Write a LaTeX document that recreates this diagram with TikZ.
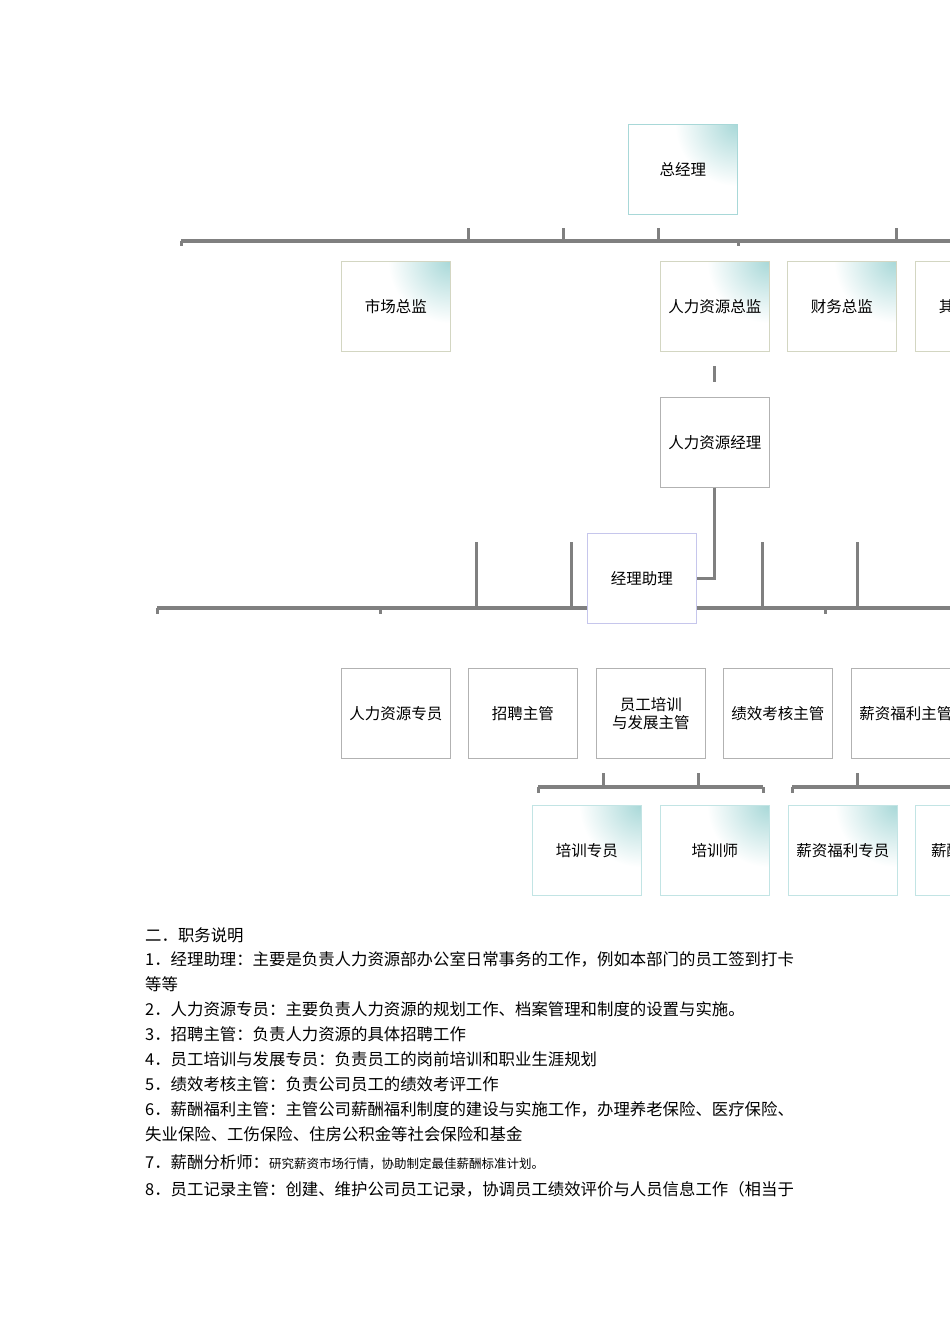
\documentclass[tikz,border=0pt]{standalone}
\usepackage{fontspec}
\newfontfamily\cjk{Noto Sans CJK SC}
\definecolor{ln}{HTML}{808080}
\definecolor{teal1}{HTML}{A8D8D8}
\tikzset{
 bx/.style={draw=#1, line width=0.6pt, minimum width=109pt, minimum height=90pt, inner sep=0pt, font=\cjk\fontsize{15.5}{18}\selectfont, align=center},
 bus/.style={draw=ln, line width=4pt},
 tk/.style={draw=ln, line width=3pt},
 txt/.style={anchor=west, inner sep=0pt, font=\cjk\fontsize{16.4}{18}\selectfont}
}
\newcommand{\gbox}[5]{%
 \begin{scope}
 \clip (#2,#3) rectangle ++(109,90);
 \fill[white] (#2,#3) rectangle ++(109,90);
 \shade[inner color=teal1, outer color=white] (#2+109,#3) circle (62pt);
 \end{scope}
 \node[bx=#4, anchor=north west] (#1) at (#2,#3) {#5};}
\newcommand{\pbox}[5]{\node[bx=#4, anchor=north west] (#1) at (#2,#3) {#5};}
\begin{document}
\begin{tikzpicture}[x=1pt,y=-1pt]
\useasboundingbox (0,0) rectangle (950,1344);
\clip (0,0) rectangle (950,1344);
% top
\gbox{gm}{628}{124}{teal1}{总经理}
\draw[bus] (181,241) -- (960,241);
\foreach \x in {468,563,658,896} \draw[tk] (\x,228) -- (\x,241);
\foreach \x in {181,738} \draw[tk] (\x,241) -- (\x,246);
\gbox{mk}{341}{261}{green!15!yellow!20!gray!40}{市场总监}
\gbox{hrd}{660}{261}{green!15!yellow!20!gray!40}{人力资源总监}
\gbox{fin}{787}{261}{green!15!yellow!20!gray!40}{财务总监}
\gbox{oth}{915}{261}{green!15!yellow!20!gray!40}{其他总监}
\draw[tk] (714,366) -- (714,382);
\pbox{hrm}{660}{397}{gray!60}{人力资源经理}
\pbox{asst}{587}{533}{gray!50!blue!30}{经理助理}
\draw[tk] (hrm.south) |- (asst.east |- 0,578);
% bus 2
\draw[bus] (157,608) -- (asst.west |- 0,608);
\draw[bus] (asst.east |- 0,608) -- (960,608);
\foreach \x in {476,571,762,857} \draw[tk] (\x,542) -- (\x,608);
\foreach \x in {157,380,825} \draw[tk] (\x,608) -- (\x,614);
% row3
\pbox{s1}{341}{668}{gray!60}{人力资源专员}
\pbox{s2}{468}{668}{gray!60}{招聘主管}
\pbox{s3}{596}{668}{gray!60}{员工培训\\与发展主管}
\pbox{s4}{723}{668}{gray!60}{绩效考核主管}
\pbox{s5}{851}{668}{gray!60}{薪资福利主管}
% bus 3
\draw[bus] (538,787) -- (763,787);
\foreach \x in {603,698} \draw[tk] (\x,773) -- (\x,787);
\foreach \x in {538,763} \draw[tk] (\x,787) -- (\x,793);
\draw[bus] (792,787) -- (960,787);
\draw[tk] (857,773) -- (857,787);
\draw[tk] (792,787) -- (792,793);
% row4
\gbox{t1}{532}{805}{teal1!70}{培训专员}
\gbox{t2}{660}{805}{teal1!70}{培训师}
\gbox{t3}{788}{805}{teal1!70}{薪资福利专员}
\gbox{t4}{915}{805}{teal1!70}{薪酬分析师}
% text
\node[txt] (l0) at (145,935) {二．职务说明};
\node[txt] (l1) at (145,959) {1．经理助理：主要是负责人力资源部办公室日常事务的工作，例如本部门的员工签到打卡};
\node[txt] (l1b) at (145,984) {等等};
\node[txt] (l2) at (145,1009) {2．人力资源专员：主要负责人力资源的规划工作、档案管理和制度的设置与实施。};
\node[txt] (l3) at (145,1034) {3．招聘主管：负责人力资源的具体招聘工作};
\node[txt] (l4) at (145,1059) {4．员工培训与发展专员：负责员工的岗前培训和职业生涯规划};
\node[txt] (l5) at (145,1084) {5．绩效考核主管：负责公司员工的绩效考评工作};
\node[txt] (l6) at (145,1109) {6．薪酬福利主管：主管公司薪酬福利制度的建设与实施工作，办理养老保险、医疗保险、};
\node[txt] (l6b) at (145,1134) {失业保险、工伤保险、住房公积金等社会保险和基金};
\node[txt] (l7) at (145,1162) {7．薪酬分析师：{\fontsize{12.5}{14}\selectfont 研究薪资市场行情，协助制定最佳薪酬标准计划。}};
\node[txt] (l8) at (145,1189) {8．员工记录主管：创建、维护公司员工记录，协调员工绩效评价与人员信息工作（相当于};
\end{tikzpicture}
\end{document}
